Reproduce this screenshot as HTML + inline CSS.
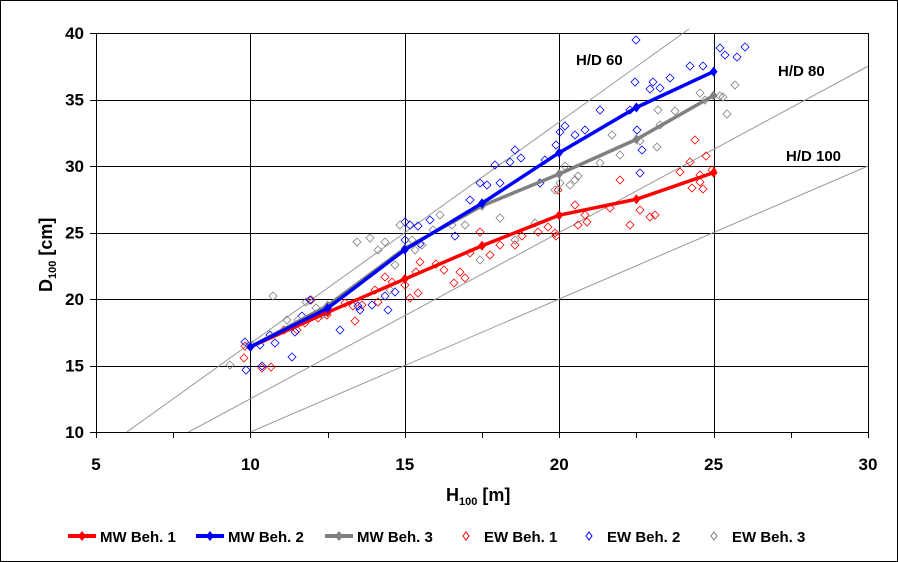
<!DOCTYPE html>
<html><head><meta charset="utf-8"><style>
html,body{margin:0;padding:0;background:#fff}
svg{display:block;font-family:"Liberation Sans",Arial,sans-serif}
</style></head><body>
<svg id="s" width="898" height="562" viewBox="0 0 898 562" xmlns="http://www.w3.org/2000/svg">
<rect x="0.5" y="0.5" width="897" height="561" fill="#fff" stroke="#000"/>
<g id="g"></g>
</svg>
<script>
const X=h=>96+(h-5)*30.88, Y=d=>432-(d-10)*13.3;
const SX=h=>Math.round(X(h))+0.5, SY=d=>Math.round(Y(d))+0.5;
let o='';
// grid
for(let h=10;h<=30;h+=5)o+=`<line x1="${SX(h)}" y1="33" x2="${SX(h)}" y2="432.5" stroke="#000" stroke-width="1"/>`;
for(let d=15;d<=40;d+=5)o+=`<line x1="96" y1="${SY(d)}" x2="868.5" y2="${SY(d)}" stroke="#000" stroke-width="1"/>`;
o+=`<line x1="96.5" y1="33" x2="96.5" y2="432.5" stroke="#000"/><line x1="96" y1="432.5" x2="868.5" y2="432.5" stroke="#000"/>`;
for(let h=5;h<=30;h+=2.5)o+=`<line x1="${SX(h)}" y1="432" x2="${SX(h)}" y2="438" stroke="#000"/>`;
for(let d=10;d<=40;d+=5)o+=`<line x1="90" y1="${SY(d)}" x2="96" y2="${SY(d)}" stroke="#000"/>`;
// HD lines
o+=`<line x1="${X(6)}" y1="${Y(10)}" x2="${X(24.2)}" y2="${Y(40.3)}" stroke="#999" stroke-width="1"/>`;
o+=`<line x1="${X(8)}" y1="${Y(10)}" x2="868" y2="${Y(37.5)}" stroke="#999" stroke-width="1"/>`;
o+=`<line x1="${X(10)}" y1="${Y(10)}" x2="868" y2="${Y(30)}" stroke="#999" stroke-width="1"/>`;
o+=`<g font-weight="bold" font-size="15"><text x="576" y="65">H/D 60</text><text x="778" y="76">H/D 80</text><text x="786" y="161">H/D 100</text></g>`;
// scatter
const dia=(x,y,c)=>`<path d="M${x} ${y-4}L${x+4} ${y}L${x} ${y+4}L${x-4} ${y}Z" fill="none" stroke="${c}" stroke-width="0.8"/>`;
const R=[[244,358],[245,346],[262,368],[271,367],[284,330],[297,330],[305,323],[311,300],[318,318],[327,315],[345,303],[355,321],[353,306],[362,305],[378,302],[375,290],[385,277],[392,282],[405,285],[410,298],[416,272],[418,293],[420,262],[436,264],[444,270],[454,283],[460,272],[465,278],[470,253],[480,232],[490,255],[500,245],[515,245],[522,236],[538,232],[548,227],[555,233],[556,236],[558,190],[575,205],[578,225],[585,215],[587,222],[610,208],[620,180],[630,225],[640,210],[650,217],[655,215],[680,172],[690,162],[692,188],[700,175],[703,189],[695,140],[706,156],[712,170],[700,182]];
const B=[[245,342],[246,370],[260,345],[262,366],[270,335],[275,343],[292,357],[295,332],[302,316],[310,300],[325,312],[340,330],[358,306],[360,310],[372,305],[385,296],[388,310],[395,292],[405,222],[410,225],[405,240],[418,226],[420,244],[430,220],[455,236],[470,200],[480,183],[487,185],[500,183],[495,165],[510,162],[515,150],[521,158],[540,183],[545,160],[556,145],[560,132],[565,126],[585,130],[575,135],[600,110],[630,110],[635,82],[637,130],[642,150],[650,89],[653,82],[660,88],[670,78],[690,66],[703,66],[720,48],[725,55],[737,57],[745,47],[636,40],[640,173]];
const G=[[230,365],[248,345],[252,345],[273,296],[287,320],[298,320],[306,302],[316,308],[322,315],[357,242],[370,238],[378,250],[385,242],[390,290],[395,265],[400,225],[412,240],[415,250],[422,245],[433,230],[440,215],[452,225],[465,225],[480,260],[500,218],[515,240],[535,223],[555,190],[560,183],[565,166],[570,185],[575,180],[578,176],[600,163],[612,135],[620,155],[640,141],[658,110],[657,147],[675,111],[700,93],[705,100],[720,96],[723,97],[727,114],[735,85],[660,125]];
R.forEach(p=>o+=dia(p[0],p[1],'#f00'));B.forEach(p=>o+=dia(p[0],p[1],'#00f'));G.forEach(p=>o+=dia(p[0],p[1],'#808080'));
// MW lines
const H=[10,12.5,15,17.5,20,22.5,25];
const M=[['#f00',[16.4,19,21.5,24,26.3,27.5,29.5]],['#808080',[16.4,19.5,23.8,27,29.4,32,35.3]],['#00f',[16.4,19.3,23.7,27.2,31,34.4,37.1]]];
M.forEach(([c,d])=>{o+=`<polyline fill="none" stroke="${c}" stroke-width="3.5" points="${H.map((h,i)=>X(h)+','+Y(d[i])).join(' ')}"/>`;
H.forEach((h,i)=>{const x=X(h),y=Y(d[i]);o+=`<path d="M${x} ${y-5}L${x+4} ${y}L${x} ${y+5}L${x-4} ${y}Z" fill="${c}"/>`;});});
// tick labels
o+=`<g font-weight="bold" font-size="17" text-anchor="middle">`;
for(let h=5;h<=30;h+=5)o+=`<text x="${X(h)}" y="470">${h}</text>`;
o+=`</g><g font-weight="bold" font-size="17" text-anchor="end">`;
for(let d=10;d<=40;d+=5)o+=`<text x="84" y="${Y(d)+6}">${d}</text>`;
o+=`</g>`;
o+=`<text x="446" y="501" font-weight="bold" font-size="18">H<tspan font-size="11" dy="4">100</tspan><tspan dy="-4"> [m]</tspan></text>`;
o+=`<text transform="translate(52,292) rotate(-90)" font-weight="bold" font-size="18">D<tspan font-size="11" dy="4">100</tspan><tspan dy="-4"> [cm]</tspan></text>`;
// legend
const L=[[68,'#f00','MW Beh. 1',1],[196,'#00f','MW Beh. 2',1],[325,'#808080','MW Beh. 3',1],[452,'#f00','EW Beh. 1',0],[575,'#00f','EW Beh. 2',0],[700,'#808080','EW Beh. 3',0]];
L.forEach(([x,c,t,m])=>{const y=536;
if(m){o+=`<line x1="${x}" y1="${y}" x2="${x+28}" y2="${y}" stroke="${c}" stroke-width="4"/><path d="M${x+14} ${y-5}L${x+18} ${y}L${x+14} ${y+5}L${x+10} ${y}Z" fill="${c}"/>`;o+=`<text x="${x+32}" y="${y+6}" font-weight="bold" font-size="15">${t}</text>`;}
else{o+=`<path d="M${x+14} ${y-4}L${x+17} ${y}L${x+14} ${y+4}L${x+11} ${y}Z" fill="none" stroke="${c}"/>`;o+=`<text x="${x+32}" y="${y+6}" font-weight="bold" font-size="15">${t}</text>`;}});
document.getElementById('g').innerHTML=o;
</script>
</body></html>
